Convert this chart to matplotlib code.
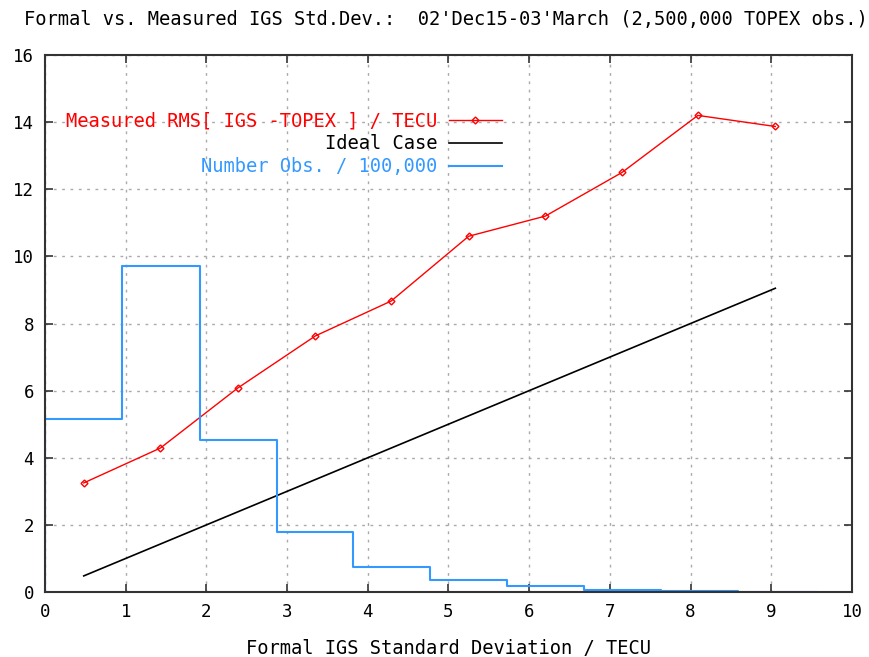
import numpy as np
import matplotlib.pyplot as plt

# Measured RMS vs formal std. dev. (bin centres)
formal_sd = [0.48, 1.43, 2.39, 3.35, 4.29, 5.25, 6.20, 7.15, 8.09, 9.05]
measured_rms = [3.25, 4.29, 6.08, 7.63, 8.67, 10.60, 11.20, 12.50, 14.20, 13.87]

# Ideal case: measured == formal
ideal_x = [0.48, 9.05]
ideal_y = [0.48, 9.05]

# Histogram of observations / 100,000
bin_edges = [0.0, 0.96, 1.92, 2.87, 3.82, 4.77, 5.72, 6.68, 7.63, 8.59, 9.55]
n_obs = [5.15, 9.72, 4.53, 1.79, 0.75, 0.37, 0.19, 0.07, 0.02, 0.005]

plt.rcParams["font.family"] = ["DejaVu Sans Mono"]

fig = plt.figure(figsize=(8.69, 6.57), dpi=100)
ax = fig.add_axes([0.0518, 0.0989, 0.9286, 0.8174])

ax.plot(formal_sd, measured_rms, color="#ff0000", lw=1, marker="D", ms=3.5,
        mfc="none", mew=1, label="Measured RMS[ IGS -TOPEX ] / TECU")
ax.plot(ideal_x, ideal_y, color="black", lw=1.2, label="Ideal Case")

# step outline of histogram, starting from the axis at x=0
step_x = [bin_edges[0]] + list(np.repeat(bin_edges, 2)[1:-1])
step_y = [0] + list(np.repeat(n_obs, 2))
ax.plot(step_x, step_y, color="#3399ff", lw=1.5,
        label="Number Obs. / 100,000")

ax.set_xlim(0, 10)
ax.set_ylim(0, 16)
ax.set_xticks(range(0, 11))
ax.set_yticks(range(0, 17, 2))
ax.tick_params(direction="in", length=6, width=1.2, labelsize=12.5,
               top=True, right=True, color="#333333", pad=8)
ax.grid(True, color="#aaaaaa", linestyle=(0, (2, 4)), lw=1)
for s in ax.spines.values():
    s.set_linewidth(1.5)
    s.set_color("#333333")

ax.set_xlabel("Formal IGS Standard Deviation / TECU", fontsize=13.5, labelpad=13)
fig.suptitle("Formal vs. Measured IGS Std.Dev.:  02'Dec15-03'March (2,500,000 TOPEX obs.)",
             fontsize=13.5, x=0.513, y=0.985)

leg = ax.legend(loc="upper left", bbox_to_anchor=(0.0099, 0.919), frameon=False,
                markerfirst=False, fontsize=13.5, handlelength=2.83,
                handletextpad=0.6, labelspacing=0.2, borderaxespad=0.3)
for txt, c in zip(leg.get_texts(), ["#ff0000", "black", "#3399ff"]):
    txt.set_color(c)

plt.savefig("out.png", dpi=100)
